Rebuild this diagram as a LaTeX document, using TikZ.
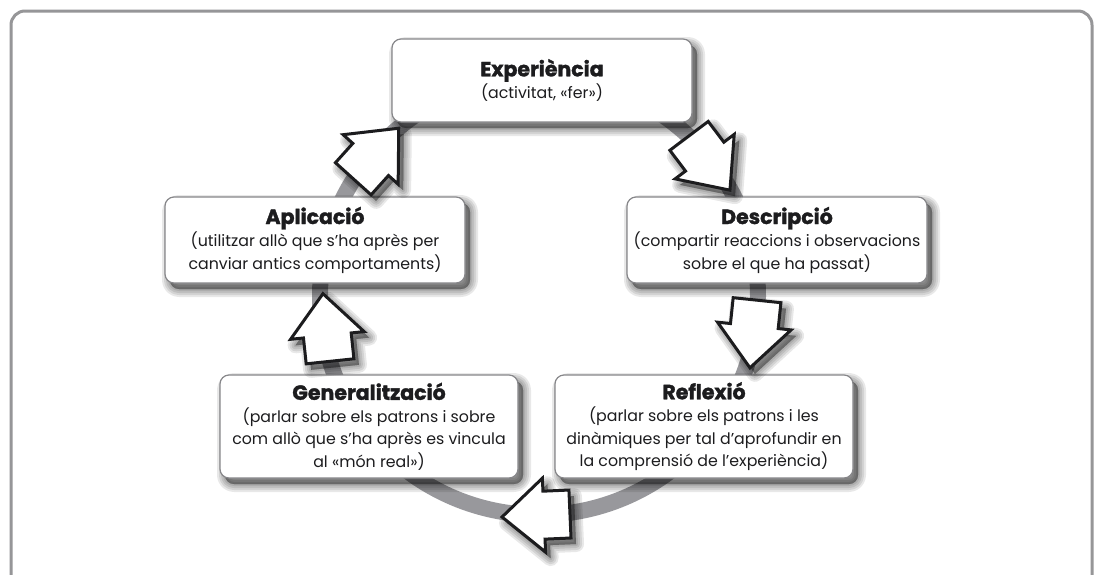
\documentclass[tikz,border=0pt]{standalone}
\usepackage{fontspec}
\setmainfont{Poppins}
\usetikzlibrary{calc}
\definecolor{ringgray}{RGB}{152,152,156}
\definecolor{framegray}{RGB}{150,150,152}
\definecolor{boxline}{RGB}{135,135,138}
\definecolor{inkblack}{RGB}{28,28,30}
\newcommand\bodyf{\fontsize{15.8}{22.5}\selectfont}
\newcommand\titlef{\fontsize{20.5}{22.5}\selectfont\bfseries\addfontfeature{FakeBold=1.6}}
\tikzset{
  shl/.style={preaction={draw=black,fill=black,opacity=0.09,line width=#1,line join=round,transform canvas={shift={(5pt,-6pt)}}}},
  softshadow/.style={shl=16pt,shl=12pt,shl=8pt,shl=4pt,shl=0.5pt},
  box/.style={softshadow, draw=boxline, line width=1.2pt, fill=white, rounded corners=9pt,
    minimum width=300pt, minimum height=84pt, inner sep=0pt, align=center, font=\bodyf, text=inkblack},
  arrowshadow/.style={draw=black, fill=black, opacity=0.09, line width=#1, line join=round},
  blockarrow/.style={draw=inkblack, line width=3pt, fill=white, line join=miter},
  ring/.style={draw=ringgray, line width=16pt},
  frame/.style={draw=framegray, line width=3pt, rounded corners=14pt}
}
\newcommand\arrpath{(-34,-24) -- (-8,-24) -- (-8,-37) -- (34,0) -- (-8,37) -- (-8,24) -- (-34,24) -- cycle}
\newcommand\myarrow[3]{%
  \begin{scope}[shift={(#1+5,#2+6)}, rotate=#3]
    \foreach \w in {16,12,8,4,0.5} {\path[arrowshadow=\w pt] \arrpath;}
  \end{scope}
  \begin{scope}[shift={(#1,#2)}, rotate=#3]
    \path[blockarrow] \arrpath;
  \end{scope}}
\begin{document}
\begin{tikzpicture}[x=1pt,y=-1pt]
\clip (0,0) rectangle (1103,574);
\fill[white] (0,0) rectangle (1103,574);
\path[frame] (11,11) rectangle (1092,620);
\coordinate (c) at (539,296);
\draw[ring] (c) circle[radius=219];
\node[box, minimum width=300pt, minimum height=83pt] (E) at (542,80.5)
  {{\titlef Experiència}\\(activitat, «fer»)};
\node[box, minimum width=300pt, minimum height=86pt] (A) at (315,240)
  {{\titlef Aplicació}\\(utilitzar allò que s’ha après per\\canviar antics comportaments)};
\node[box, minimum width=300pt, minimum height=86pt] (D) at (777,240)
  {{\titlef Descripció}\\(compartir reaccions i observacions\\sobre el que ha passat)};
\node[box, minimum width=298pt, minimum height=103pt] (G) at (369,426.5)
  {{\titlef Generalització}\\(parlar sobre els patrons i sobre\\com allò que s’ha après es vincula\\al «món real»)};
\node[box, minimum width=298pt, minimum height=103pt] (R) at (704,426.5)
  {{\titlef Reflexió}\\(parlar sobre els patrons i les\\dinàmiques per tal d’aprofundir en\\la comprensió de l’experiència)};
\myarrow{376}{153.5}{48}
\myarrow{709.5}{163}{-53}
\myarrow{753.5}{334}{-96}
\myarrow{326.5}{327.5}{96}
\myarrow{536}{515.5}{182.5}
\end{tikzpicture}
\end{document}
